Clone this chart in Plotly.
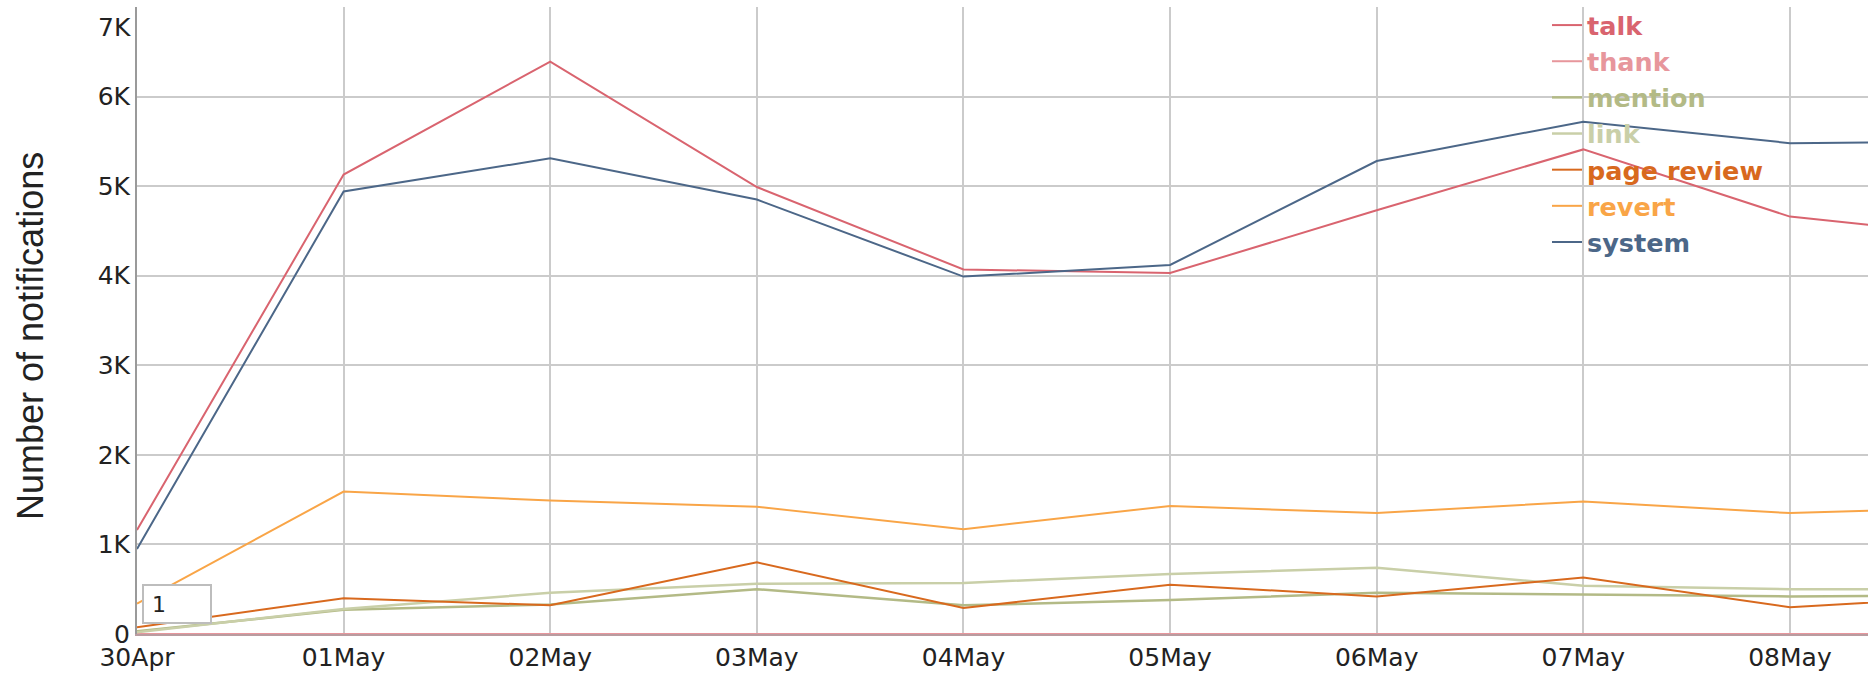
import plotly.graph_objects as go

# ---- data ----
dates = ["2017-04-30", "2017-05-01", "2017-05-02", "2017-05-03", "2017-05-04",
         "2017-05-05", "2017-05-06", "2017-05-07", "2017-05-08", "2017-05-09"]
talk = [1160, 5130, 6390, 4990, 4070, 4030, 4730, 5410, 4660, 4420]
thank = [0, 0, 0, 0, 0, 0, 0, 0, 0, 0]
mention = [30, 270, 330, 500, 320, 380, 460, 440, 420, 430]
link = [20, 280, 460, 560, 570, 670, 740, 540, 500, 500]
page_review = [75, 400, 320, 800, 290, 550, 420, 630, 300, 430]
revert = [340, 1590, 1490, 1420, 1170, 1430, 1350, 1480, 1350, 1420]
system = [950, 4940, 5310, 4850, 3990, 4120, 5280, 5720, 5480, 5500]

series_names = ["talk", "thank", "mention", "link", "page review", "revert", "system"]
series_values = [talk, thank, mention, link, page_review, revert, system]
series_colors = ["#d9646f", "#e7969c", "#b3ba86", "#c9cfa8", "#d8691e", "#f9a547", "#4c6788"]
series_widths = [2, 2, 2.5, 2.5, 2, 2, 2]

y_tickvals = [0, 1000, 2000, 3000, 4000, 5000, 6000, 7000]
y_ticktext = ["0", "1K", "2K", "3K", "4K", "5K", "6K", ""]
top_label = "7K"
y_title = "Number of notifications"
box_text = "1"

W, H = 1868, 673
ML, MR, MT, MB = 137, 0, 7, 39
PW, PH = W - ML - MR, H - MT - MB

fig = go.Figure()
for name, vals, col, lw in zip(series_names, series_values, series_colors, series_widths):
    fig.add_trace(go.Scatter(
        x=dates, y=vals, mode="lines", name=f"<b><span style='color:{col}'>{name}</span></b>",
        line=dict(color=col, width=lw), hoverinfo="skip"))

grid = "#cbcbcb"
fig.update_layout(
    width=W, height=H,
    margin=dict(l=ML, r=MR, t=MT, b=MB, pad=0),
    paper_bgcolor="white", plot_bgcolor="white",
    font=dict(family="DejaVu Sans", size=25, color="#222222"),
    showlegend=True,
    legend=dict(x=(1547 - ML) / PW, y=1 + 5 / PH, xanchor="left", yanchor="top",
                bgcolor="rgba(0,0,0,0)", borderwidth=0,
                font=dict(family="DejaVu Sans", size=25.5),
                tracegroupgap=0, itemwidth=30),
    xaxis=dict(type="date", range=["2017-04-30", "2017-05-08 09:04"],
               tick0="2017-04-30", dtick=86400000, tickformat="%d%b",
               showgrid=True, gridcolor=grid, gridwidth=1.5,
               showline=True, linecolor="#b99ca0", linewidth=2,
               zeroline=False, ticks="",
               tickfont=dict(family="DejaVu Sans", size=25, color="#222222")),
    yaxis=dict(range=[0, 7000], tickmode="array", tickvals=y_tickvals, ticktext=y_ticktext,
               showgrid=True, gridcolor=grid, gridwidth=1.5,
               showline=True, linecolor="#9a9a9a", linewidth=2,
               zeroline=False, ticks="",
               tickfont=dict(family="DejaVu Sans", size=25, color="#222222")),
)

fig.add_annotation(text=top_label, xref="paper", yref="y", x=0, y=7000,
                   xanchor="right", yanchor="top", xshift=-4, yshift=-4,
                   showarrow=False, font=dict(family="DejaVu Sans", size=25, color="#222222"))
fig.add_annotation(text=y_title, xref="paper", yref="paper",
                   x=(30 - ML) / PW, y=(H - MB - 336) / PH,
                   xanchor="center", yanchor="middle", textangle=-90, showarrow=False,
                   font=dict(family="Liberation Sans", size=36, color="#222222"))
fig.add_annotation(text="&nbsp;" + box_text, xref="paper", yref="paper",
                   x=(142 - ML) / PW, y=(H - MB - 624) / PH,
                   xanchor="left", yanchor="bottom", align="left",
                   width=64, height=34, borderpad=1,
                   bordercolor="#bdbdbd", borderwidth=2, bgcolor="white", showarrow=False,
                   font=dict(family="DejaVu Sans", size=22, color="#222222"))

fig.write_html("out.html", config={"displayModeBar": False},
               post_script="document.body.style.margin='0';document.body.style.overflow='hidden';")
